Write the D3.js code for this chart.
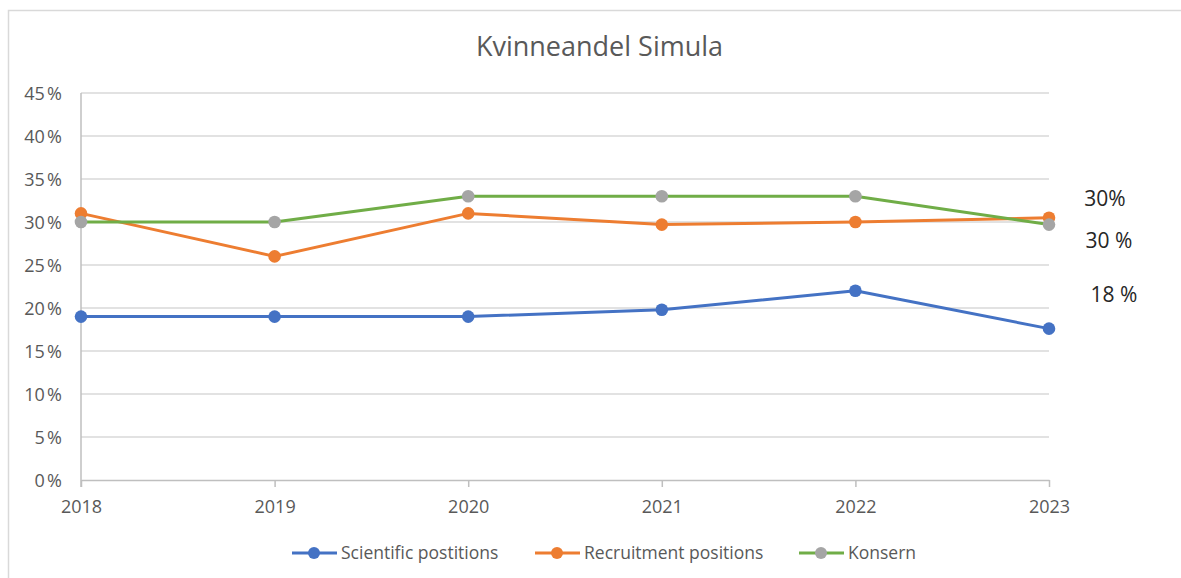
<!DOCTYPE html>
<html>
<head>
<meta charset="utf-8">
<script src="https://cdn.jsdelivr.net/npm/d3@7"></script>
<style>
  body { margin: 0; background: #fff; }
  svg { display: block; font-family: "Open Sans", sans-serif; }
</style>
</head>
<body>
<svg id="chart" width="1181" height="578"></svg>
<script>
const years = [2018, 2019, 2020, 2021, 2022, 2023];
const scientific = [19, 19, 19, 19.8, 22, 17.6];
const recruitment = [31, 26, 31, 29.7, 30, 30.5];
const konsern = [30, 30, 33, 33, 33, 29.7];
const yTicks = [0, 5, 10, 15, 20, 25, 30, 35, 40, 45];
const endLabelText = ['18 %', '30%', '30 %'];

const series = [
    {name: 'Scientific postitions', values: scientific, line: '#4472C4', marker: '#4472C4'},
    {name: 'Recruitment positions', values: recruitment, line: '#ED7D31', marker: '#ED7D31'},
    {name: 'Konsern', values: konsern, line: '#70AD47', marker: '#A5A5A5'}
];
// offsets of the hand-placed labels next to the last point of each series
const endLabelOffset = [{dx: 65, dy: -27}, {dx: 56, dy: -12}, {dx: 60, dy: 23}];

const svg = d3.select('svg#chart');
const margin = {top: 93, left: 81};
const width = 968;
const height = 387;

// frame
svg.append('rect')
    .attr('x', 8.5).attr('y', 10.5)
    .attr('width', 1200).attr('height', 600)
    .attr('fill', 'none')
    .attr('stroke', '#d9d9d9')
    .attr('stroke-width', 1.5);

svg.append('text')
    .attr('x', 599.5).attr('y', 56)
    .attr('text-anchor', 'middle')
    .attr('fill', '#595959')
    .style('font-size', '27px')
    .text('Kvinneandel Simula');

const g = svg.append('g').attr('transform', `translate(${margin.left},${margin.top})`);

const x = d3.scalePoint().domain(years).range([0, width]);
const y = d3.scaleLinear().domain([0, 45]).range([height, 0]);

// gridlines
g.append('g')
    .selectAll('line')
    .data(yTicks.filter(d => d > 0))
    .join('line')
    .attr('x1', 0).attr('x2', width)
    .attr('y1', d => y(d)).attr('y2', d => y(d))
    .attr('stroke', '#d9d9d9')
    .attr('stroke-width', 1.5);

const yAxis = g.append('g')
    .call(d3.axisLeft(y).tickValues(yTicks).tickSize(0).tickPadding(19).tickFormat(d => d + '\u202f%'));
yAxis.select('.domain').attr('stroke', '#bfbfbf').attr('stroke-width', 1.5)
    .attr('d', `M0,0V${height + 7}`);
yAxis.selectAll('text').attr('fill', '#595959').attr('dy', '0.36em')
    .style('font-size', '18px').style('font-family', '"Open Sans", sans-serif');

const xAxis = g.append('g')
    .attr('transform', `translate(0,${height})`)
    .call(d3.axisBottom(x).tickSize(7).tickSizeOuter(0).tickPadding(12));
xAxis.select('.domain').attr('stroke', '#bfbfbf').attr('stroke-width', 1.5);
xAxis.selectAll('line').attr('stroke', '#bfbfbf').attr('stroke-width', 1.5);
xAxis.selectAll('text').attr('fill', '#595959').attr('y', 0).attr('dy', 33)
    .style('font-size', '18px').style('font-family', '"Open Sans", sans-serif');

const line = d3.line()
    .x((d, i) => x(years[i]))
    .y(d => y(d));

series.forEach(s => {
    g.append('path')
        .datum(s.values)
        .attr('fill', 'none')
        .attr('stroke', s.line)
        .attr('stroke-width', 3)
        .attr('stroke-linejoin', 'round')
        .attr('d', line);
});
series.forEach(s => {
    g.append('g')
        .selectAll('circle')
        .data(s.values)
        .join('circle')
        .attr('cx', (d, i) => x(years[i]))
        .attr('cy', d => y(d))
        .attr('r', 6.3)
        .attr('fill', s.marker);
});

// labels to the right of the last point
const last = years[years.length - 1];
g.append('g')
    .selectAll('text')
    .data(series)
    .join('text')
    .attr('x', (s, i) => x(last) + endLabelOffset[i].dx)
    .attr('y', (s, i) => y(s.values[s.values.length - 1]) + endLabelOffset[i].dy)
    .attr('text-anchor', 'middle')
    .attr('fill', '#262626')
    .style('font-size', '21px')
    .text((s, i) => endLabelText[i]);

// legend
const legendX = [292, 535, 799];
const legend = svg.append('g').attr('transform', 'translate(0,553)');
series.forEach((s, i) => {
    const item = legend.append('g').attr('transform', `translate(${legendX[i]},0)`);
    item.append('line').attr('x1', 0).attr('x2', 45).attr('y1', 0).attr('y2', 0)
        .attr('stroke', s.line).attr('stroke-width', 3);
    item.append('circle').attr('cx', 22).attr('cy', 0).attr('r', 6).attr('fill', s.marker);
    item.append('text').attr('x', 49).attr('y', 6)
        .attr('fill', '#595959').style('font-size', '17.5px')
        .text(s.name);
});
</script>
</body>
</html>
